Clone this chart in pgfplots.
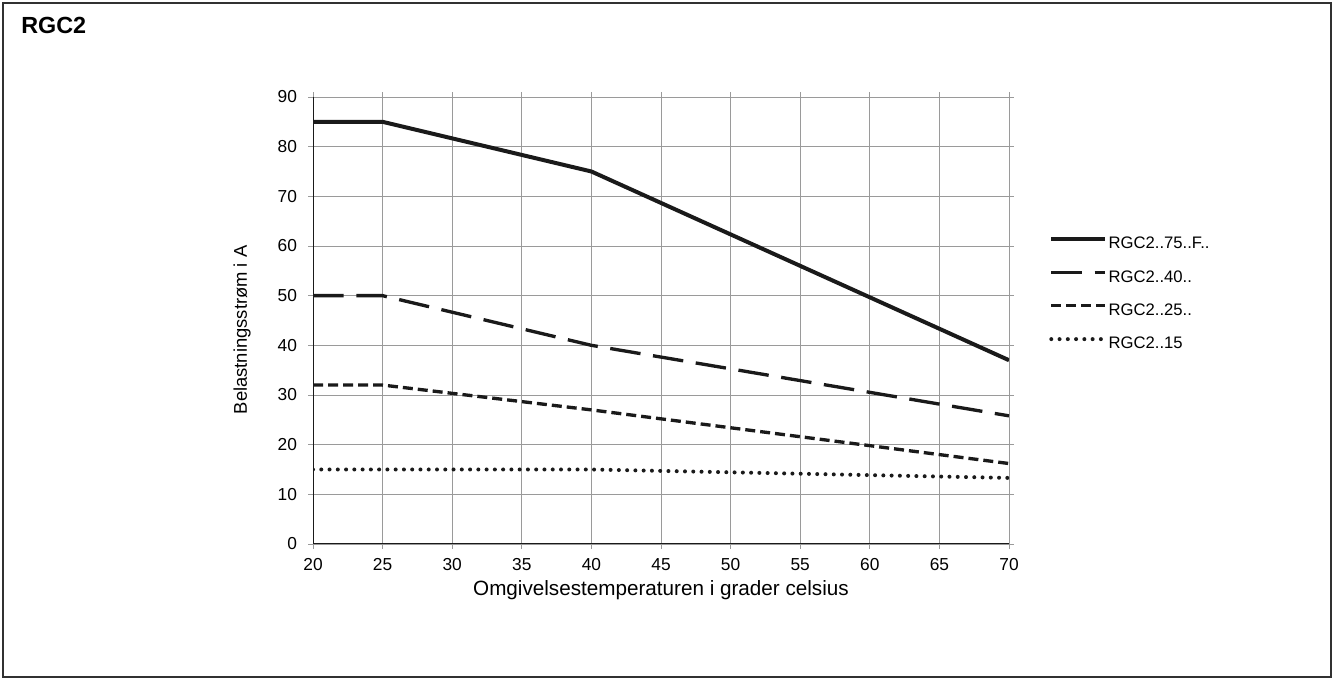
\documentclass[border=0pt]{standalone}
\usepackage{pgfplots}
\pgfplotsset{compat=1.18}
\usepackage{fontspec}
\setmainfont{Liberation Sans}
\definecolor{gridgray}{HTML}{9A9A9A}
\definecolor{ink}{HTML}{1A1A1A}
\begin{document}
\begin{tikzpicture}
\useasboundingbox (0,0) rectangle (1000.5pt,510pt);
\draw[line width=1.4pt, color=ink!90] (2.25pt,2.25pt) rectangle (998.25pt,507.75pt);
\node[anchor=base west, font=\bfseries\fontsize{17.5}{20}\selectfont, inner sep=0pt] at (15.75pt,485pt) {RGC2};
\begin{axis}[
  at={(234.75pt,102pt)}, anchor=south west,
  scale only axis, width=522pt, height=335.25pt,
  xmin=20, xmax=70, ymin=0, ymax=90,
  xtick={20,25,...,70}, ytick={0,10,...,90},
  grid=major,
  grid style={color=gridgray, line width=0.5pt},
  axis line style={color=gridgray, line width=0.7pt},
  tick align=outside, major tick length=3.5pt,
  tick style={color=gridgray, line width=0.6pt},
  every axis plot/.append style={color=ink},
  /pgf/number format/assume math mode=true,
  ticklabel style={font=\fontsize{13}{15}\selectfont},
  xticklabel style={text height=9.4pt, text depth=0pt, yshift=-3.5pt},
  yticklabel style={xshift=-5pt},
  xlabel={Omgivelsestemperaturen i grader celsius},
  ylabel={Belastningsstrøm i A},
  xlabel style={font=\fontsize{15.5}{18}\selectfont, at={(axis description cs:0.5,0)}, anchor=base, yshift=-39pt},
  ylabel style={font=\fontsize{13.8}{16}\selectfont, at={(axis description cs:-0.102,0.479)}, anchor=center},
  legend style={at={(rel axis cs:1.0575,0.688)}, anchor=north west, draw=none, fill=none,
     font=\fontsize{12.5}{14}\selectfont, row sep=13.4pt, inner sep=0pt,
     nodes={inner sep=0pt, text height=9pt, text depth=2.6pt},
     /tikz/every odd column/.append style={column sep=1pt}},
  legend cell align=left,
  legend image code/.code={\draw[#1] (0pt,4pt) -- (40.5pt,4pt);},
]
\addplot[line width=3pt] coordinates {(20,85) (25,85) (40,75) (70,37)};
\addlegendentry{RGC2..75..F..}
\addplot[line width=2.5pt, dash pattern=on 23pt off 9.5pt] coordinates {(20,50) (25,50) (40,40) (70,25.8)};
\addlegendentry{RGC2..40..}
\addplot[line width=2.5pt, dash pattern=on 7.5pt off 3.75pt] coordinates {(20,32) (25,32) (40,27) (70,16.2)};
\addlegendentry{RGC2..25..}
\addplot[line width=3pt, line cap=round, dash pattern=on 0pt off 6.2pt] coordinates {(20,15) (40,15) (70,13.3)};
\addlegendentry{RGC2..15}
\draw[ink, line width=1.4pt] (rel axis cs:0,1) -- (rel axis cs:0,0) -- (rel axis cs:1,0);
\end{axis}
\end{tikzpicture}
\end{document}
